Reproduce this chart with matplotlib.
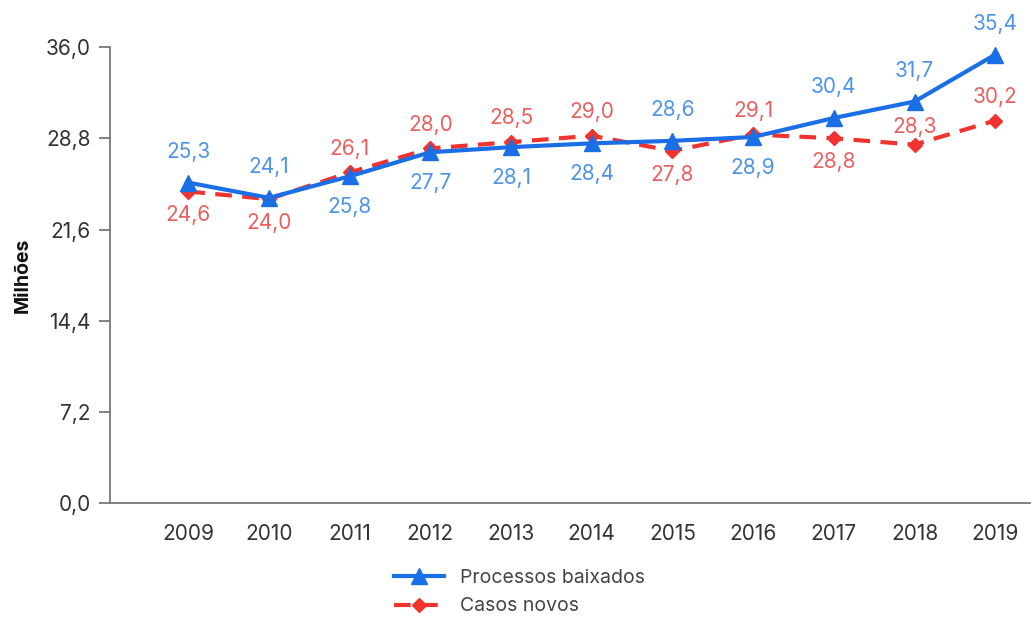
import matplotlib
matplotlib.use("Agg")
import matplotlib.pyplot as plt
from matplotlib.ticker import FixedLocator

plt.rcParams['font.family'] = ['Inter', 'DejaVu Sans']

anos = [2009, 2010, 2011, 2012, 2013, 2014, 2015, 2016, 2017, 2018, 2019]
baixados = [25.3, 24.1, 25.8, 27.7, 28.1, 28.4, 28.6, 28.9, 30.4, 31.7, 35.4]
novos = [24.6, 24.0, 26.1, 28.0, 28.5, 29.0, 27.8, 29.1, 28.8, 28.3, 30.2]
# rótulo acima (+) ou abaixo (-) do ponto
lado_baixados = [1, 1, -1, -1, -1, -1, 1, -1, 1, 1, 1]
lado_novos = [-1, -1, 1, 1, 1, 1, -1, 1, -1, 0.75, 1]
yticks = [0.0, 7.2, 14.4, 21.6, 28.8, 36.0]

azul, azul_txt = '#1a6fe6', '#4d94e8'
verm, verm_txt = '#f0332f', '#ea5f5f'

fig = plt.figure(figsize=(10.33, 6.19), dpi=100)
ax = fig.add_axes([0.1065, 0.187, 0.8905, 0.737])

ax.plot(anos, baixados, color=azul, lw=3, marker='^', ms=11, label='Processos baixados', zorder=3)
ax.plot(anos, novos, color=verm, lw=3, ls=(0, (4, 2.5)), marker='D', ms=7,
        label='Casos novos', zorder=2)

for x, y, s in zip(anos, baixados, lado_baixados):
    ax.annotate(f"{y:.1f}".replace('.', ','), (x, y), xytext=(0, 22 * s), textcoords='offset points',
                ha='center', va='center', color=azul_txt, fontsize=15)
for x, y, s in zip(anos, novos, lado_novos):
    ax.annotate(f"{y:.1f}".replace('.', ','), (x, y), xytext=(0, 17 * s), textcoords='offset points',
                ha='center', va='center', color=verm_txt, fontsize=15)

ax.set_ylim(0, 36)
ax.set_xlim(2008.03, 2019.43)
ax.yaxis.set_major_locator(FixedLocator(yticks))
ax.set_yticklabels([f"{v:.1f}".replace('.', ',') for v in yticks])
ax.set_xticks(anos)
ax.tick_params(axis='x', length=0, pad=15, labelsize=15, labelcolor='#333333')
ax.tick_params(axis='y', length=8, width=1.3, color='#777777', labelsize=15, labelcolor='#333333', pad=6)

for lado in ['top', 'right']:
    ax.spines[lado].set_visible(False)
for lado in ['left', 'bottom']:
    ax.spines[lado].set_color('#777777')
    ax.spines[lado].set_linewidth(1.3)

fig.text(0.022, 0.555, 'Milhões', rotation=90, ha='center', va='center',
         fontsize=14, fontweight='bold', color='#111111')

ax.legend(loc='upper center', bbox_to_anchor=(0.445, -0.105), frameon=False, fontsize=14,
          handlelength=2.6, labelspacing=0.55, labelcolor='#444444')

fig.savefig('out.png', dpi=100)
